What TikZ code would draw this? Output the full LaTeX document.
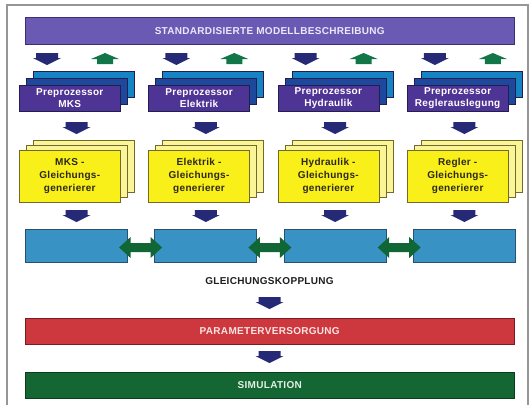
\documentclass[tikz,border=0pt]{standalone}
\usepackage{fontspec}
\setmainfont{Liberation Sans}
\newfontfamily\labfont[LetterSpace=3]{Liberation Sans}
\definecolor{framec}{RGB}{150,150,150}
\definecolor{topbarc}{RGB}{106,90,180}
\definecolor{topbord}{RGB}{60,48,115}
\definecolor{ppfront}{RGB}{78,52,148}
\definecolor{ppmid}{RGB}{30,72,155}
\definecolor{ppback}{RGB}{22,132,196}
\definecolor{ppbord}{RGB}{35,30,80}
\definecolor{navyc}{RGB}{38,42,118}
\definecolor{greenc}{RGB}{18,118,72}
\definecolor{yfront}{RGB}{248,240,24}
\definecolor{yback}{RGB}{250,245,150}
\definecolor{ybord}{RGB}{115,105,45}
\definecolor{ytext}{RGB}{45,40,30}
\definecolor{bboxc}{RGB}{56,146,196}
\definecolor{bbord}{RGB}{40,80,112}
\definecolor{dgreen}{RGB}{16,102,52}
\definecolor{redc}{RGB}{204,56,62}
\definecolor{redbord}{RGB}{120,30,35}
\definecolor{simc}{RGB}{20,102,50}
\definecolor{simbord}{RGB}{12,60,30}
\begin{document}
\begin{tikzpicture}[x=1pt,y=-1pt,
  lab/.style={font=\labfont\bfseries\fontsize{10}{12}\selectfont},
  box/.style={rectangle, inner sep=0pt, anchor=north west, line width=0.5pt},
  ppf/.style={box, fill=ppfront, draw=ppbord, minimum width=101pt, minimum height=26pt,
    lab, text=white, align=center},
  ppm/.style={box, fill=ppmid, draw=ppbord, minimum width=101pt, minimum height=26pt},
  ppb/.style={box, fill=ppback, draw=ppbord, minimum width=101pt, minimum height=26pt},
  ylf/.style={box, fill=yfront, draw=ybord, minimum width=101pt, minimum height=52pt,
    align=center, text=ytext, font=\labfont\bfseries\fontsize{10}{13}\selectfont},
  ylb/.style={box, fill=yback, draw=ybord, minimum width=101pt, minimum height=52pt},
  bbox/.style={box, fill=bboxc, draw=bbord, minimum width=102pt, minimum height=33pt},
  bar/.style={box, minimum width=489pt, minimum height=26pt, lab},
  dnarrow/.pic={\fill[navyc] (-11,0) -- (11,0) -- (11,5) -- (14,5) -- (0,12) -- (-14,5) -- (-11,5) -- cycle;},
  uparrow/.pic={\fill[greenc] (0,0) -- (14,6) -- (8,6) -- (8,11) -- (-8,11) -- (-8,6) -- (-14,6) -- cycle;},
  dblarrow/.pic={\fill[dgreen] (-21.5,0) -- (-10,-10.5) -- (-10,-4.5) -- (10,-4.5) -- (10,-10.5) -- (21.5,0) -- (10,10.5) -- (10,4.5) -- (-10,4.5) -- (-10,10.5) -- cycle;}
]
\useasboundingbox (0,0) rectangle (531,405);
\fill[white] (0,0) rectangle (531,405);
\draw[framec, line width=1.2pt] (7,405) -- (7,5) -- (528,5) -- (528,405);

\node[bar, fill=topbarc, draw=topbord, minimum height=27pt, text={rgb,255:red,236;green,232;blue,248}] (top) at (25,17) {STANDARDISIERTE MODELLBESCHREIBUNG};

\foreach \i/\L/\pt/\gt in {1/19/{Preprozessor\\MKS}/{MKS -\\Gleichungs-\\generierer},
                          2/148.3/{Preprozessor\\Elektrik}/{Elektrik -\\Gleichungs-\\generierer},
                          3/277.6/{Preprozessor\\Hydraulik}/{Hydraulik -\\Gleichungs-\\generierer},
                          4/406.9/{Preprozessor\\Reglerauslegung}/{Regler -\\Gleichungs-\\generierer}} {
  \pic at (\L+28,53) {dnarrow};
  \pic at (\L+86,53) {uparrow};
  \node[ppb] (ppb\i) at (\L+14,71) {};
  \node[ppm] (ppm\i) at (\L+7,78) {};
  \node[ppf] (pp\i) at (\L,85) {\pt};
  \pic at (\L+57.5,122) {dnarrow};
  \node[ylb] (glb\i) at (\L+14,140) {};
  \node[ylb] (glm\i) at (\L+7,145) {};
  \node[ylf] (gl\i) at (\L,150) {\gt};
  \pic at (\L+57.5,210) {dnarrow};
  \node[bbox] (bb\i) at (\L+6,229) {};
}
\foreach \i in {1,2,3} {
  \pic at (19+129.3*\i-129.3+121.6,247.5) {dblarrow};
}
\node[lab, text={rgb,255:red,30;green,30;blue,30}] (kopp) at (269.5,281) {GLEICHUNGSKOPPLUNG};
\pic at (269.5,297) {dnarrow};
\node[bar, fill=redc, draw=redbord, text={rgb,255:red,252;green,228;blue,228}] (param) at (25,318) {PARAMETERVERSORGUNG};
\pic at (269.5,351) {dnarrow};
\node[bar, fill=simc, draw=simbord, text={rgb,255:red,228;green,240;blue,228}] (sim) at (25,372) {SIMULATION};
\end{tikzpicture}
\end{document}
